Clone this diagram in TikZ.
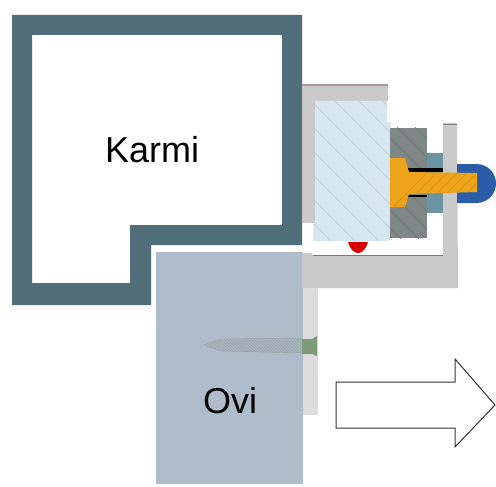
\documentclass[tikz,border=0pt]{standalone}
\usepackage{fontspec}
\setmainfont{Liberation Sans}
\usetikzlibrary{patterns}
\definecolor{frameC}{HTML}{4F6E7A}
\definecolor{oviC}{HTML}{AEBDC9}
\definecolor{chanC}{HTML}{C9C9C9}
\definecolor{stripC}{HTML}{DCDCDC}
\definecolor{glassC}{HTML}{D6E7F2}
\definecolor{hatchC}{HTML}{B4CAD6}
\definecolor{gasketC}{HTML}{7E8686}
\definecolor{gasketH}{HTML}{6F7777}
\definecolor{tealC}{HTML}{6A94A4}
\definecolor{boltC}{HTML}{EDA41C}
\definecolor{boltH}{HTML}{D9921A}
\definecolor{capC}{HTML}{2A5CA8}
\definecolor{sealC}{HTML}{A999A8}
\definecolor{screwC}{HTML}{7F9B78}
\definecolor{shaftC}{HTML}{A9B6BF}
\definecolor{shaftH}{HTML}{97A5A8}
\begin{document}
\begin{tikzpicture}[x=1pt,y=-1pt,
  lbl/.style={font=\fontsize{36}{36}\selectfont,text=black,inner sep=0pt,anchor=base west}]
\useasboundingbox (0,0) rectangle (496,487);
% frame
\fill[frameC,even odd rule] (12,15)--(302,15)--(302,245)--(151,245)--(151,305)--(12,305)--cycle
  (32,35)--(282,35)--(282,225)--(130,225)--(130,283)--(32,283)--cycle;
% ovi
\fill[oviC] (156,252) rectangle (303,484);
% channel
\fill[chanC] (302,85)--(388,85)--(388,101)--(315,101)--(315,223)--(302,223)--cycle;
\draw[sealC,line width=1.2pt] (302,85)--(388,85);
\fill[chanC] (302,253)--(312,253)--(312,255)--(443,255)--(443,123)--(457,123)--(458,288)--(302,288)--cycle;
\draw[gray!90!violet,line width=1pt] (313,255)--(443,255);
\draw[gray,line width=1.2pt] (443,124.5)--(457,124.5);
\fill[stripC] (303,288) rectangle (318,415);
% glass
\fill[glassC] (315,101)--(387,101)--(387,122)--(391,122)--(391,238)--(388,241)--(313,241)--(313,224)--(315,224)--cycle;
\begin{scope}
\clip (315,101)--(387,101)--(387,122)--(391,122)--(391,238)--(388,241)--(313,241)--(313,224)--(315,224)--cycle;
\foreach \i in {-9,...,6}
  \draw[hatchC,line width=.5pt] (300+\i*24,90)--(300+\i*24+170,260);
\end{scope}
% gasket and spacer
\fill[gasketC] (390,128) rectangle (427,238);
\begin{scope}
\clip (390,128) rectangle (427,238);
\foreach \i in {-6,...,3}
  \draw[gasketH,line width=.5pt] (390+\i*18,120)--(390+\i*18+125,245);
\end{scope}
\fill[tealC] (427,153) rectangle (443,213);
% gaps
\fill[black] (408,168) rectangle (443,172);
\fill[black] (408,195) rectangle (427,197);
% cap
\fill[capC] (457,164)--(476.5,164) arc[start angle=-90,end angle=90,radius=19.5] --(457,203)--cycle;
% bolt
\fill[boltC] (390,158)--(405,158)--(409,172)--(477,173)--(477,192)--(409,194)--(405,207)--(390,207)--cycle;
\begin{scope}
\clip (390,158)--(405,158)--(409,172)--(477,173)--(477,192)--(409,194)--(405,207)--(390,207)--cycle;
\foreach \i in {0,...,9}
  \draw[boltH,line width=.5pt] (390+\i*10,210)--(390+\i*10+55,155);
\end{scope}
% seal dot
\fill[red!85!black] (348,242) .. controls (350,249) and (354,253) .. (358,253)
  .. controls (362,253) and (366,249) .. (368,242) -- cycle;
% screw
\fill[shaftC] (204,345)--(220,339)--(302,338)--(302,353)--(220,351)--cycle;
\fill[pattern=north west lines,pattern color=shaftH] (204,345)--(220,339)--(302,338)--(302,353)--(220,351)--cycle;
\draw[shaftH,line width=.4pt] (204,345)--(220,339)--(302,338) (302,353)--(220,351)--(204,345);
\fill[screwC] (302,339)--(312,339)--(317,336)--(317,356)--(312,354)--(302,354)--cycle;
% arrow
\draw[black!80,line width=1pt,fill=white] (336,382)--(455,382)--(455,359)--(495,405)--(455,447)--(455,428)--(336,428)--cycle;
% labels
\node[lbl] (karmi) at (105,163) {Karmi};
\node[lbl] (ovi) at (203,413) {Ovi};
\end{tikzpicture}
\end{document}
